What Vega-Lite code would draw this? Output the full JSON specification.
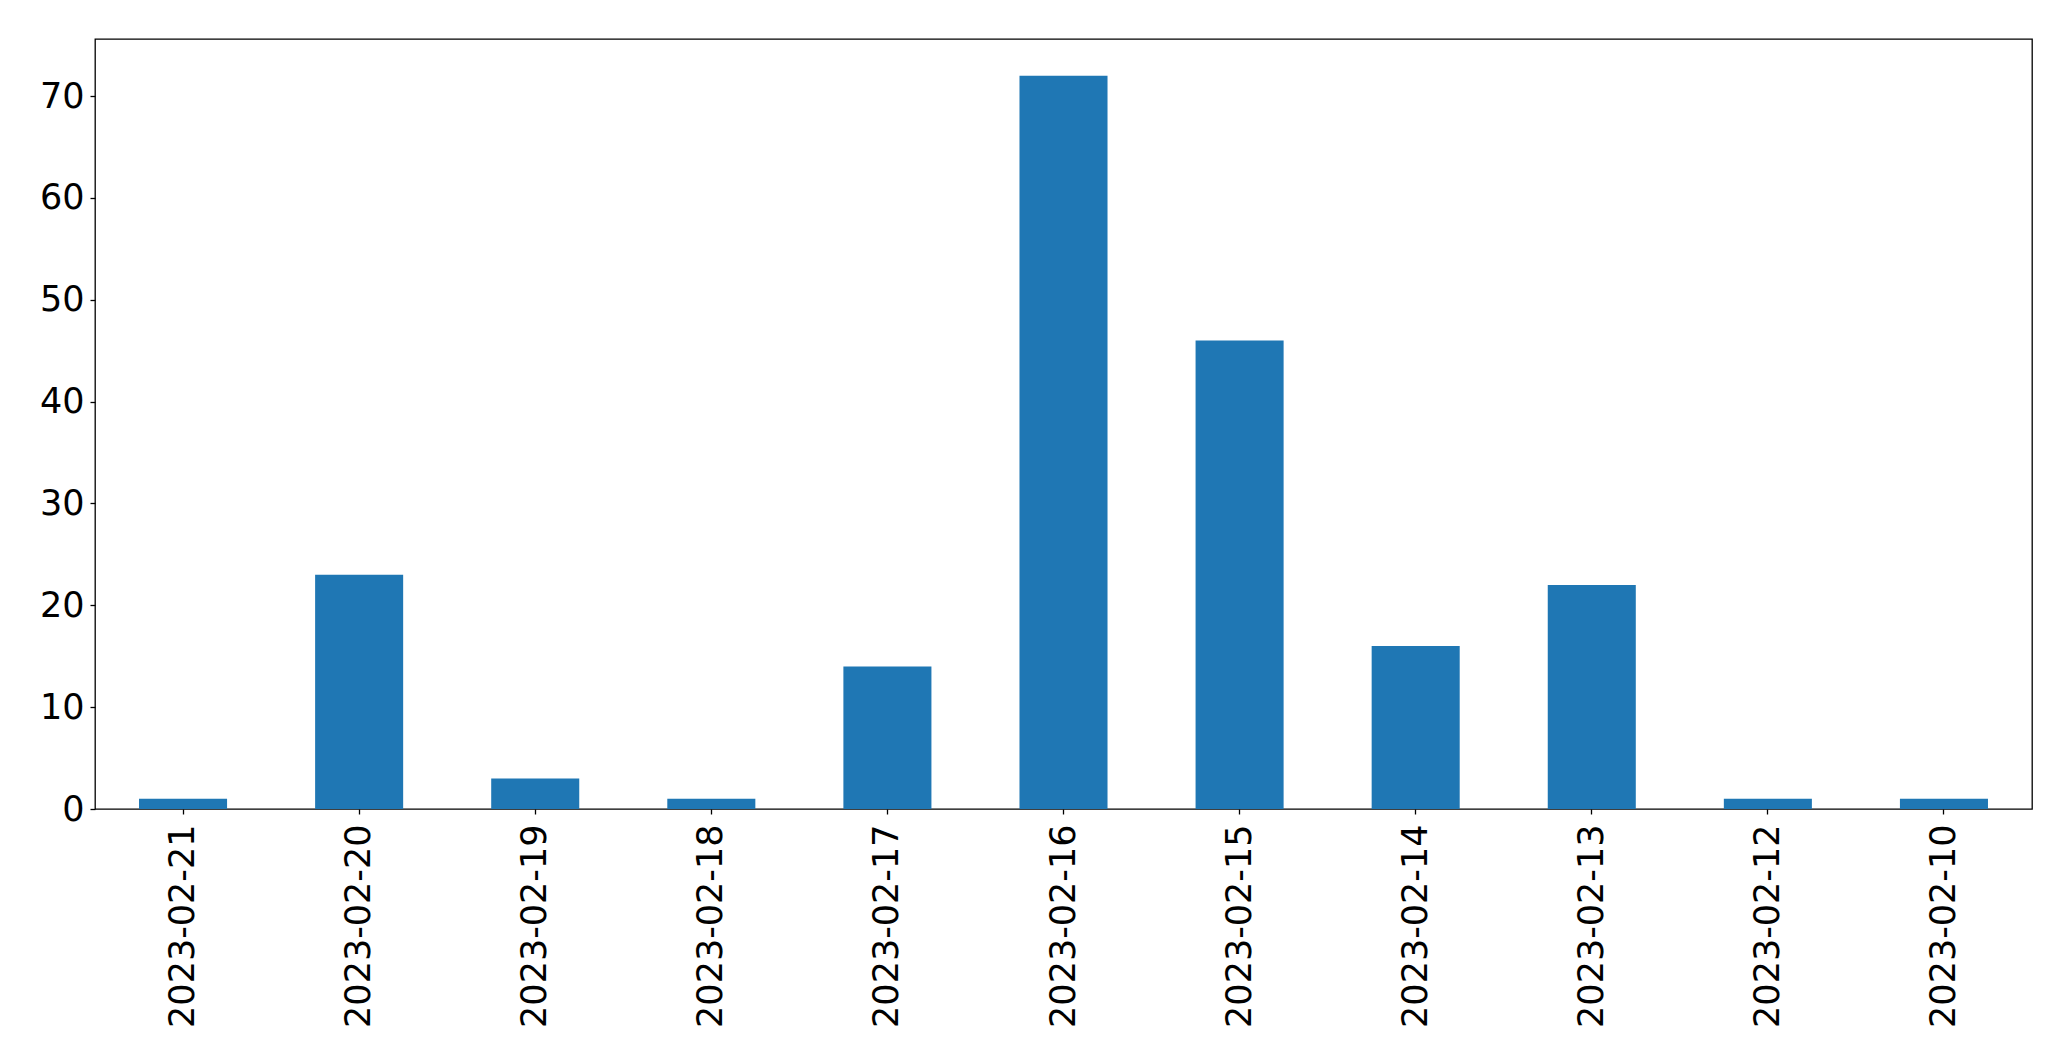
{
  "$schema": "https://vega.github.io/schema/vega-lite/v6.json",
  "autosize": "none",
  "padding": {"left": 95, "top": 39, "right": 39, "bottom": 252},
  "width": 1937,
  "height": 770,
  "background": "white",
  "config": {
    "view": {"stroke": "black", "strokeWidth": 1.3},
    "axis": {
      "labelFont": "DejaVu Sans",
      "labelFontSize": 35,
      "labelColor": "black",
      "labelLimit": 0,
      "tickColor": "black",
      "tickSize": 5,
      "tickWidth": 1.3,
      "domain": false,
      "grid": false,
      "title": null
    }
  },
  "data": {
    "values": [
      {"date": "2023-02-21", "count": 1},
      {"date": "2023-02-20", "count": 23},
      {"date": "2023-02-19", "count": 3},
      {"date": "2023-02-18", "count": 1},
      {"date": "2023-02-17", "count": 14},
      {"date": "2023-02-16", "count": 72},
      {"date": "2023-02-15", "count": 46},
      {"date": "2023-02-14", "count": 16},
      {"date": "2023-02-13", "count": 22},
      {"date": "2023-02-12", "count": 1},
      {"date": "2023-02-10", "count": 1}
    ]
  },
  "mark": {"type": "bar", "color": "#1f77b4"},
  "encoding": {
    "x": {
      "field": "date",
      "type": "nominal",
      "sort": null,
      "scale": {"paddingInner": 0.5, "paddingOuter": 0.25},
      "axis": {"labelAngle": -90, "labelPadding": 10, "labelAlign": "right", "labelBaseline": "middle"}
    },
    "y": {
      "field": "count",
      "type": "quantitative",
      "scale": {"domain": [0, 75.6], "nice": false},
      "axis": {"values": [0, 10, 20, 30, 40, 50, 60, 70], "labelPadding": 6}
    }
  }
}
